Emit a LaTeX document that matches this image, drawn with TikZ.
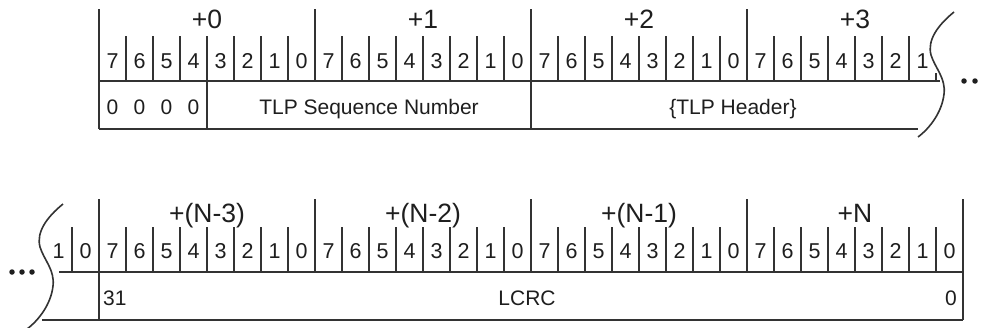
\documentclass[tikz,border=0pt]{standalone}
\usepackage{fontspec}
\setmainfont{Liberation Sans}
\definecolor{ln}{HTML}{333333}
\definecolor{tx}{HTML}{1E1E1E}
\tikzset{
  rule/.style={draw=ln, line width=1.6pt},
  bitlbl/.style={anchor=base, text=tx, inner sep=0pt, font=\fontsize{21.5}{24}\selectfont},
  bytelbl/.style={anchor=base, text=tx, inner sep=0pt, font=\fontsize{26.5}{30}\selectfont},
  fieldlbl/.style={anchor=base, text=tx, inner sep=0pt, font=\fontsize{21}{24}\selectfont},
  dot/.style={circle, fill=tx, inner sep=0pt, minimum size=5.5pt},
}
\begin{document}
\begin{tikzpicture}[x=1pt, y=-1pt]
\useasboundingbox (0,0) rectangle (981,327);
% ---------------- top row ----------------
\draw[rule] (99,9) -- (99,129);
\foreach \k in {8,16,24} \draw[rule] ({99+27*\k},9) -- ({99+27*\k},81);
\foreach \k in {1,...,30} \draw[rule] ({99+27*\k},36) -- ({99+27*\k},81);
\draw[rule] (936,73) -- (936,81);
\draw[rule] (99,81) -- (940,81);
\draw[rule] (99,129) -- (918,129);
\draw[rule] (207,81) -- (207,129);
\draw[rule] (531,81) -- (531,129);
\foreach \c [count=\j from 0] in {+0,+1,+2,+3}
  \node[bytelbl] (tb\j) at ({207+216*\j},28) {\c};
\foreach \i in {0,...,30}{
  \pgfmathtruncatemacro{\b}{7-mod(\i,8)}
  \node[bitlbl] (tbit\i) at ({112.5+27*\i},68) {\b};
}
\foreach \i in {0,...,3}
  \node[fieldlbl] (tz\i) at ({112.5+27*\i},114) {0};
\node[fieldlbl] (tseq) at (369,114) {TLP Sequence Number};
\node[fieldlbl] (thdr) at (733,114) {\{TLP Header\}};
% wave (top right)
\draw[rule] (954,12) .. controls (938,25) and (927,40) .. (931,55)
  .. controls (935,68) and (946,78) .. (944,94)
  .. controls (942,112) and (930,128) .. (918,137);
\node[dot] (td1) at (964,81) {};
\node[dot] (td2) at (975,81) {};
\node[dot] (td3) at (986,81) {};
% ---------------- bottom row ----------------
\draw[rule] (99,199) -- (99,320);
\draw[rule] (963,199) -- (963,320);
\foreach \k in {8,16,24} \draw[rule] ({99+27*\k},199) -- ({99+27*\k},272);
\foreach \k in {-1,1,2,...,31} \draw[rule] ({99+27*\k},227) -- ({99+27*\k},272);
\draw[rule] (59,272) -- (963,272);
\draw[rule] (42,320) -- (963,320);
\foreach \c [count=\j from 0] in {+(N-3),+(N-2),+(N-1),+N}
  \node[bytelbl] (bb\j) at ({207+216*\j},222) {\c};
\node[bitlbl] (bbm2) at (58.5,258) {1};
\node[bitlbl] (bbm1) at (85.5,258) {0};
\foreach \i in {0,...,31}{
  \pgfmathtruncatemacro{\b}{7-mod(\i,8)}
  \node[bitlbl] (bbit\i) at ({112.5+27*\i},258) {\b};
}
\node[fieldlbl, anchor=base west] (b31) at (103,305) {31};
\node[fieldlbl] (blcrc) at (527,305) {LCRC};
\node[fieldlbl, anchor=base east] (b0) at (957,305) {0};
% wave (bottom left)
\begin{scope}[shift={(-891,192)}]
\draw[rule] (954,12) .. controls (938,25) and (927,40) .. (931,55)
  .. controls (935,68) and (946,78) .. (944,94)
  .. controls (942,112) and (930,128) .. (918,137);
\end{scope}
\node[dot] (bd1) at (12,272) {};
\node[dot] (bd2) at (22,272) {};
\node[dot] (bd3) at (32,272) {};
\end{tikzpicture}
\end{document}
